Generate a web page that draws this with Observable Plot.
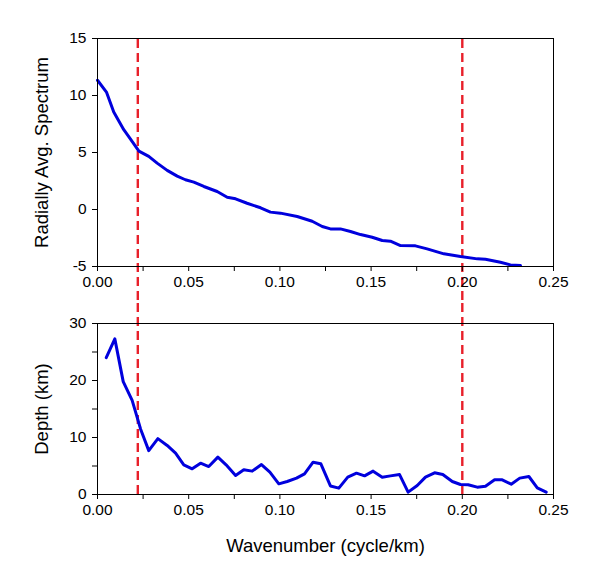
<!DOCTYPE html>
<html>
<head>
<meta charset="utf-8">
<script src="https://cdn.jsdelivr.net/npm/d3@7"></script>
<script src="https://cdn.jsdelivr.net/npm/@observablehq/plot@0.6"></script>
<style>
  html, body { margin: 0; padding: 0; background: #fff; }
  #chart { width: 590px; height: 582px; }
  #chart svg { display: block; }
</style>
</head>
<body>
<div id="chart"></div>
<script>
// Radially averaged spectrum (top panel)
const specK = [0, 0.0049, 0.0089, 0.0144, 0.018, 0.0227, 0.0281, 0.0327, 0.0382, 0.0437,
  0.0482, 0.0528, 0.0583, 0.0656, 0.0711, 0.0757, 0.082, 0.0894, 0.0948, 0.1003,
  0.1095, 0.1177, 0.1232, 0.1277, 0.1332, 0.1387, 0.1442, 0.1506, 0.1561, 0.1606,
  0.1661, 0.1743, 0.1807, 0.1899, 0.199, 0.2082, 0.2127, 0.2209, 0.2264, 0.2319];
const specV = [11.34, 10.3, 8.55, 7.0, 6.2, 5.12, 4.66, 4.07, 3.43, 2.93,
  2.61, 2.40, 2.02, 1.58, 1.08, 0.94, 0.55, 0.15, -0.23, -0.32,
  -0.61, -1.03, -1.49, -1.70, -1.70, -1.93, -2.20, -2.43, -2.72, -2.78,
  -3.16, -3.19, -3.45, -3.89, -4.13, -4.33, -4.37, -4.63, -4.86, -4.92];

// Depth (bottom panel)
const depthK = [0.0048, 0.0095, 0.0141, 0.019, 0.0236, 0.0281, 0.0331, 0.0382, 0.0428, 0.0473,
  0.0519, 0.0565, 0.061, 0.066, 0.0705, 0.0757, 0.0802, 0.0848, 0.0899, 0.0945,
  0.0994, 0.104, 0.1091, 0.1135, 0.1182, 0.1224, 0.1277, 0.1323, 0.1372, 0.142,
  0.1464, 0.1511, 0.1561, 0.1606, 0.1656, 0.1703, 0.1753, 0.1798, 0.1848, 0.1893,
  0.1945, 0.199, 0.2032, 0.2082, 0.2127, 0.2177, 0.2219, 0.2268, 0.2315, 0.2365,
  0.2411, 0.246];
const depthV = [24.0, 27.3, 19.8, 16.5, 11.5, 7.7, 9.8, 8.6, 7.25, 5.2,
  4.5, 5.5, 4.9, 6.55, 5.2, 3.33, 4.33, 4.1, 5.26, 3.92,
  1.87, 2.28, 2.87, 3.63, 5.67, 5.4, 1.5, 1.11, 3.04, 3.74,
  3.27, 4.1, 3.04, 3.27, 3.5, 0.41, 1.58, 3.04, 3.8, 3.5,
  2.28, 1.75, 1.7, 1.29, 1.46, 2.57, 2.57, 1.81, 2.87, 3.16,
  1.17, 0.41];

// Cut-off wavenumbers (red dashed lines)
const cutoffs = [0.0221, 0.2];

const xTicks = [0, 0.025, 0.05, 0.075, 0.1, 0.125, 0.15, 0.175, 0.2, 0.225, 0.25];
const xLabelTicks = [0, 0.05, 0.1, 0.15, 0.2, 0.25];
const specTicks = [-5, 0, 5, 10, 15];
const depthTicks = [0, 5, 10, 15, 20, 25, 30];
const depthLabelTicks = [0, 10, 20, 30];

const specData = specK.map((k, i) => ({k, v: specV[i]}));
const depthData = depthK.map((k, i) => ({k, v: depthV[i]}));

const font = "'Liberation Sans', Arial, sans-serif";
const BLUE = "#0000dd";
const RED = "#e8202a";
const TICK_FS = 15.5;
const TITLE_FS = 18.5;
const xFmt = d => xLabelTicks.some(t => Math.abs(t - d) < 1e-9) ? d.toFixed(2) : "";

const topPlot = Plot.plot({
  width: 590, height: 300,
  marginLeft: 97, marginRight: 37, marginTop: 38, marginBottom: 34,
  style: {fontFamily: font, fontSize: TICK_FS + "px", color: "#000", background: "#fff", overflow: "visible"},
  x: {domain: [0, 0.25]},
  y: {domain: [-5, 15]},
  marks: [
    Plot.ruleX(cutoffs, {x: d => d, y1: -7.99, y2: 15, stroke: RED, strokeWidth: 2.4, strokeDasharray: "9,5", clip: false}),
    Plot.line(specData, {x: "k", y: "v", stroke: BLUE, strokeWidth: 3}),
    Plot.frame({stroke: "#000", strokeWidth: 1}),
    Plot.axisX({ticks: xTicks, tickFormat: xFmt, tickSize: 5, tickPadding: 4, label: null, fontSize: TICK_FS}),
    Plot.axisY({ticks: specTicks, tickFormat: d => String(d), tickSize: 5, tickPadding: 6, label: null, fontSize: TICK_FS}),
    Plot.text(["Radially Avg. Spectrum"], {frameAnchor: "left", textAnchor: "middle", rotate: -90, dx: -55, fontSize: TITLE_FS, fill: "#000"})
  ]
});

const bottomPlot = Plot.plot({
  width: 590, height: 282,
  marginLeft: 97, marginRight: 37, marginTop: 23, marginBottom: 88,
  style: {fontFamily: font, fontSize: TICK_FS + "px", color: "#000", background: "#fff", overflow: "visible"},
  x: {domain: [0, 0.25]},
  y: {domain: [0, 30]},
  marks: [
    Plot.ruleX(cutoffs, {x: d => d, y1: 0, y2: 34.03, stroke: RED, strokeWidth: 2.4, strokeDasharray: "9,5", clip: false}),
    Plot.line(depthData, {x: "k", y: "v", stroke: BLUE, strokeWidth: 3}),
    Plot.frame({stroke: "#000", strokeWidth: 1}),
    Plot.axisX({ticks: xTicks, tickFormat: xFmt, tickSize: 5, tickPadding: 4, label: null, fontSize: TICK_FS}),
    Plot.axisY({ticks: depthTicks, tickFormat: d => depthLabelTicks.includes(d) ? String(d) : "", tickSize: 5, tickPadding: 6, label: null, fontSize: TICK_FS}),
    Plot.text(["Depth (km)"], {frameAnchor: "left", textAnchor: "middle", rotate: -90, dx: -55, fontSize: TITLE_FS, fill: "#000"}),
    Plot.text(["Wavenumber (cycle/km)"], {frameAnchor: "bottom", dy: 57, fontSize: TITLE_FS, fill: "#000"})
  ]
});

const el = document.getElementById("chart");
el.appendChild(topPlot);
el.appendChild(bottomPlot);
</script>
</body>
</html>
